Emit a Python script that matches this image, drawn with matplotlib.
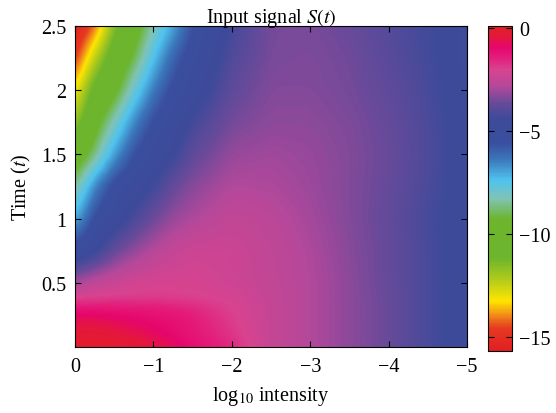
import matplotlib
matplotlib.use('Agg')
import matplotlib.pyplot as plt
import numpy as np
from matplotlib.colors import LinearSegmentedColormap

plt.rcParams['font.family'] = ['Liberation Serif', 'DejaVu Serif']
plt.rcParams['mathtext.fontset'] = 'stix'

# grid of log10 intensity (x) and time (t)
log_intensity = [0, -0.25, -0.5, -0.75, -1, -1.25, -1.5, -2,
                 -2.5, -3, -3.5, -4, -4.5, -5]
time = [0, 0.1, 0.2, 0.3, 0.37, 0.5, 0.75, 1.0, 1.25, 1.5, 1.75, 2.0, 2.25, 2.5]

# S(t) values, one row per time step
s_t000 = [-0.1, -0.1, -0.15, -0.25, -0.45, -0.7, -1.1, -1.6, -2.5, -2.85, -3.25, -3.65, -4.2, -4.7]
s_t010 = [-0.3, -0.3, -0.4, -0.55, -0.8, -1.05, -1.3, -1.8, -2.5, -2.85, -3.25, -3.65, -4.2, -4.7]
s_t020 = [-0.6, -0.6, -0.75, -0.95, -1.05, -1.15, -1.35, -1.9, -2.5, -2.85, -3.25, -3.65, -4.2, -4.7]
s_t030 = [-1.25, -1.25, -1.25, -1.25, -1.3, -1.4, -1.55, -2.0, -2.5, -2.85, -3.25, -3.65, -4.2, -4.7]
s_t037 = [-1.95, -1.9, -1.9, -1.9, -1.9, -1.95, -2.0, -2.1, -2.5, -2.85, -3.25, -3.65, -4.2, -4.7]
s_t050 = [-3.0, -2.6, -2.4, -2.2, -2.1, -2.1, -2.1, -2.3, -2.55, -2.85, -3.25, -3.7, -4.2, -4.7]
s_t075 = [-5.2, -4.6, -3.7, -3.2, -2.8, -2.5, -2.3, -2.3, -2.6, -2.9, -3.3, -3.7, -4.2, -4.7]
s_t100 = [-7.2, -5.4, -4.9, -4.2, -3.6, -3.15, -2.9, -2.55, -2.7, -3.0, -3.35, -3.75, -4.25, -4.7]
s_t125 = [-8.6, -6.6, -5.3, -4.9, -4.4, -3.7, -3.3, -2.85, -2.9, -3.1, -3.35, -3.7, -4.15, -4.7]
s_t150 = [-10.2, -8.7, -6.9, -5.6, -5.0, -4.5, -3.8, -3.15, -3.05, -3.15, -3.35, -3.65, -4.1, -4.7]
s_t175 = [-11.9, -9.7, -8.2, -6.6, -5.5, -4.9, -4.3, -3.5, -3.25, -3.25, -3.4, -3.7, -4.15, -4.7]
s_t200 = [-13.3, -10.7, -9.6, -7.9, -6.4, -5.4, -4.9, -3.8, -3.35, -3.35, -3.5, -3.8, -4.2, -4.75]
s_t225 = [-14.8, -12.4, -10.4, -9.1, -7.4, -6.0, -5.2, -4.05, -3.45, -3.4, -3.55, -3.9, -4.3, -4.75]
s_t250 = [-15.6, -14.3, -11.5, -9.9, -8.3, -7.0, -5.6, -4.3, -3.5, -3.45, -3.65, -4.0, -4.35, -4.75]

signal = np.array([s_t000, s_t010, s_t020, s_t030, s_t037, s_t050, s_t075,
                   s_t100, s_t125, s_t150, s_t175, s_t200, s_t225, s_t250])

vmin, vmax = -15.7, 0.1

# custom rainbow map: red -> yellow -> green -> cyan -> blue -> purple -> pink -> red
nodes = [(-15.7, '#e31e24'), (-14.6, '#e63a20'), (-14.0, '#f08a1a'),
         (-13.3, '#ffe500'), (-12.3, '#b5cc1a'), (-11.2, '#6cb52d'),
         (-9.3, '#6cb52d'), (-8.3, '#80c3b5'), (-7.4, '#4fc3ef'),
         (-6.4, '#3b78bb'), (-5.6, '#3a4f9f'), (-4.4, '#3e4a9a'),
         (-3.6, '#6a4a9a'), (-2.8, '#b6489a'), (-2.0, '#d9438f'),
         (-1.4, '#e41c7a'), (-0.9, '#e6066b'), (-0.4, '#e4183c'),
         (0.1, '#e31e24')]
cmap = LinearSegmentedColormap.from_list(
    'sig', [((v - vmin) / (vmax - vmin), c) for v, c in nodes])


def resample(xs, ts, z, xf, tf):
    # bilinear resampling of the grid onto a fine raster
    xs = np.asarray(xs)
    order = np.argsort(xs)
    rows = np.array([np.interp(xf, xs[order], r[order]) for r in z])
    return np.array([np.interp(tf, ts, c) for c in rows.T]).T


def smooth(a, sigma, axis):
    r = int(3 * sigma)
    k = np.exp(-0.5 * (np.arange(-r, r + 1) / sigma) ** 2)
    k /= k.sum()
    pad = [(0, 0), (0, 0)]
    pad[axis] = (r, r)
    ap = np.pad(a, pad, mode='edge')
    return np.apply_along_axis(lambda v: np.convolve(v, k, mode='valid'), axis, ap)


xf = np.linspace(0, -5, 500)
tf = np.linspace(0, 2.5, 300)
Z = resample(log_intensity, time, signal, xf, tf)
Z = smooth(smooth(Z, 7, 1), 5, 0)

fig = plt.figure(figsize=(5.56, 4.14), dpi=100)
ax = fig.add_axes([0.135, 0.159, 0.705, 0.776])
im = ax.imshow(Z, extent=[0, -5, 0, 2.5], origin='lower', aspect='auto',
               cmap=cmap, vmin=vmin, vmax=vmax, interpolation='bilinear')

ax.set_xlim(0, -5)
ax.set_ylim(0, 2.5)
ax.set_xticks([0, -1, -2, -3, -4, -5])
ax.set_xticklabels(['0', '\u22121', '\u22122', '\u22123', '\u22124', '\u22125'])
ax.set_yticks([0.5, 1, 1.5, 2, 2.5])
ax.set_yticklabels(['0.5', '1', '1.5', '2', '2.5'])
ax.tick_params(direction='in', top=True, right=True, length=4,
               labelsize=14.5)
ax.tick_params(axis='x', pad=7)
ax.tick_params(axis='y', pad=6)
for sp in ax.spines.values():
    sp.set_linewidth(0.8)

ax.set_title('Input signal $S(t)$', fontsize=14.5, pad=3)
ax.set_xlabel('log$_{10}$ intensity', fontsize=14.5, labelpad=6)
ax.set_ylabel('Time ($t$)', fontsize=14.5, labelpad=6)

cax = fig.add_axes([0.878, 0.150, 0.043, 0.785])
cb = fig.colorbar(im, cax=cax, ticks=[0, -5, -10, -15])
cb.ax.set_yticklabels(['0', '\u22125', '\u221210', '\u221215'])
cb.ax.tick_params(direction='in', left=True, right=True, length=4,
                  labelsize=14.5, pad=5)
cb.outline.set_linewidth(0.8)

fig.savefig('out.png', dpi=100)
